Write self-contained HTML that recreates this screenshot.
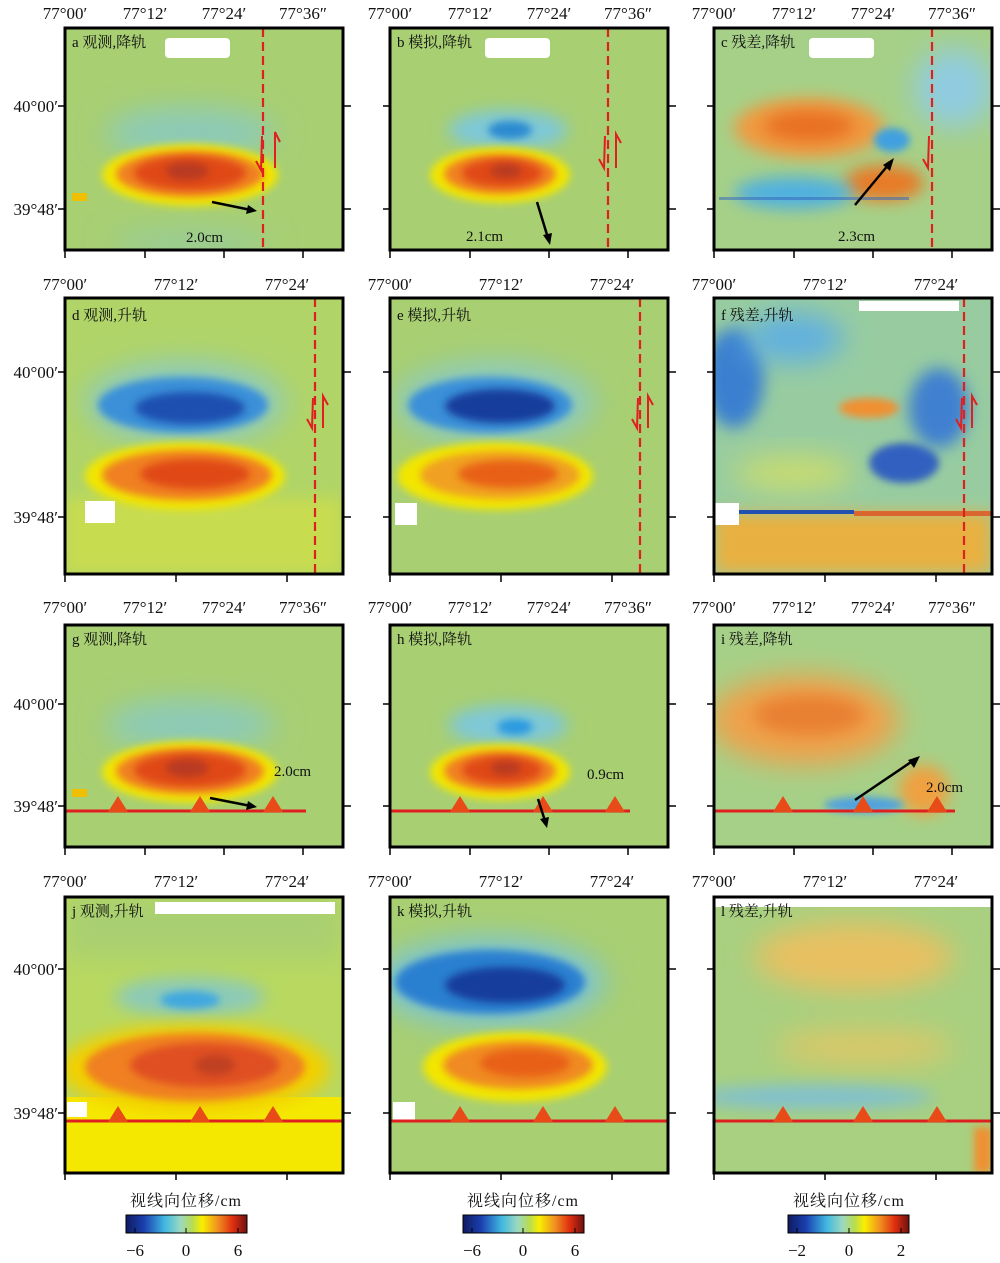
<!DOCTYPE html>
<html><head><meta charset="utf-8"><style>
html,body{margin:0;padding:0;background:#fff}
svg{display:block}
.t{font-family:"Liberation Serif","Noto Serif CJK SC",serif;font-size:17px;fill:#111}
.p{font-family:"Liberation Serif","Noto Serif CJK SC",serif;font-size:15px;fill:#111}
.q{font-family:"Liberation Serif","Noto Serif CJK SC",serif;font-size:16px;fill:#111;letter-spacing:1px}
.c{font-family:"Liberation Serif","Noto Serif CJK SC",serif;font-size:15px;fill:#111}
</style></head><body>
<svg width="1000" height="1263" viewBox="0 0 1000 1263" xmlns="http://www.w3.org/2000/svg">
<defs>
<filter id="b4" x="-50%" y="-50%" width="200%" height="200%"><feGaussianBlur stdDeviation="4"/></filter>
<filter id="b8" x="-50%" y="-50%" width="200%" height="200%"><feGaussianBlur stdDeviation="8"/></filter>
<filter id="b14" x="-50%" y="-50%" width="200%" height="200%"><feGaussianBlur stdDeviation="14"/></filter>
<clipPath id="s"><rect x="0" y="0" width="278" height="222"/></clipPath>
<clipPath id="l"><rect x="0" y="0" width="278" height="276"/></clipPath>
<linearGradient id="cb" x1="0" x2="1" y1="0" y2="0">
<stop offset="0" stop-color="#101a60"/><stop offset="0.15" stop-color="#1a40b0"/><stop offset="0.32" stop-color="#40b8e0"/><stop offset="0.45" stop-color="#9ad8c0"/><stop offset="0.55" stop-color="#b8dc50"/><stop offset="0.63" stop-color="#f8f000"/><stop offset="0.76" stop-color="#f09020"/><stop offset="0.88" stop-color="#e03010"/><stop offset="1" stop-color="#701010"/>
</linearGradient>
<g id="redS">
<ellipse cx="125" cy="147" rx="88" ry="31" fill="#f2e600" filter="url(#b4)"/>
<ellipse cx="125" cy="146" rx="74" ry="23" fill="#f08020" filter="url(#b4)"/>
<ellipse cx="125" cy="145" rx="56" ry="17" fill="#e04a18" filter="url(#b4)"/>
<ellipse cx="122" cy="143" rx="22" ry="9" fill="#b83a20" filter="url(#b4)"/>
</g>
<g id="redB">
<ellipse cx="110" cy="147" rx="70" ry="28" fill="#f2e600" filter="url(#b4)"/>
<ellipse cx="110" cy="146" rx="56" ry="20" fill="#f08020" filter="url(#b4)"/>
<ellipse cx="112" cy="145" rx="40" ry="14" fill="#e04a18" filter="url(#b4)"/>
<ellipse cx="116" cy="143" rx="16" ry="7" fill="#b83a20" filter="url(#b4)"/>
</g>
<g id="fr"><rect x="0" y="0" width="278" height="222" fill="none" stroke="#000" stroke-width="3"/></g>
<g id="frL"><rect x="0" y="0" width="278" height="276" fill="none" stroke="#000" stroke-width="3"/></g>
</defs>

<!-- ROW 1 -->
<text class="t" x="65" y="19" text-anchor="middle">77°00′</text>
<text class="t" x="145" y="19" text-anchor="middle">77°12′</text>
<text class="t" x="224" y="19" text-anchor="middle">77°24′</text>
<text class="t" x="303" y="19" text-anchor="middle">77°36″</text>
<text class="t" x="390" y="19" text-anchor="middle">77°00′</text>
<text class="t" x="470" y="19" text-anchor="middle">77°12′</text>
<text class="t" x="549" y="19" text-anchor="middle">77°24′</text>
<text class="t" x="628" y="19" text-anchor="middle">77°36″</text>
<text class="t" x="714" y="19" text-anchor="middle">77°00′</text>
<text class="t" x="794" y="19" text-anchor="middle">77°12′</text>
<text class="t" x="873" y="19" text-anchor="middle">77°24′</text>
<text class="t" x="952" y="19" text-anchor="middle">77°36″</text>
<text class="t" x="58" y="112" text-anchor="end">40°00′</text>
<text class="t" x="58" y="215" text-anchor="end">39°48′</text>

<g transform="translate(65,28)">
<g clip-path="url(#s)">
<rect width="278" height="222" fill="#a8cf72"/>
<ellipse cx="125" cy="105" rx="85" ry="26" fill="#8ccab8" filter="url(#b14)"/>
<ellipse cx="125" cy="215" rx="80" ry="15" fill="#98cc98" filter="url(#b14)"/>
<use href="#redS"/>
<rect x="7" y="165" width="15" height="8" fill="#f0c000"/>
<rect x="100" y="10" width="65" height="20" fill="#fff" rx="4"/>
<line x1="198" y1="0" x2="198" y2="222" stroke="#e02020" stroke-width="2.2" stroke-dasharray="9,5"/>
<path d="M197 108 L196 142 L191 133 M210 140 L210 104 L215 114" stroke="#e02020" stroke-width="2" fill="none"/>
<line x1="147" y1="174" x2="186" y2="182" stroke="#000" stroke-width="2.5"/><path d="M192 183 L181 186 L183 177Z" fill="#000"/>
<text class="c" x="121" y="214">2.0cm</text>
<text class="p" x="7" y="19">a 观测,降轨</text>
</g><use href="#fr"/>
</g>
<g transform="translate(390,28)">
<g clip-path="url(#s)">
<rect width="278" height="222" fill="#a8cf72"/>
<ellipse cx="118" cy="102" rx="60" ry="20" fill="#7ec8d8" filter="url(#b8)"/>
<ellipse cx="120" cy="102" rx="22" ry="9" fill="#2a8ad0" filter="url(#b4)"/>
<use href="#redB"/>
<rect x="95" y="10" width="65" height="20" fill="#fff" rx="4"/>
<line x1="218" y1="0" x2="218" y2="222" stroke="#e02020" stroke-width="2.2" stroke-dasharray="9,5"/>
<path d="M215 108 L214 140 L209 131 M226 140 L226 106 L231 115" stroke="#e02020" stroke-width="2" fill="none"/>
<line x1="147" y1="174" x2="158" y2="210" stroke="#000" stroke-width="2.5"/><path d="M160 217 L153 207 L162 205Z" fill="#000"/>
<text class="c" x="76" y="213">2.1cm</text>
<text class="p" x="7" y="19">b 模拟,降轨</text>
</g><use href="#fr"/>
</g>
<g transform="translate(714,28)">
<g clip-path="url(#s)">
<rect width="278" height="222" fill="#a6d088"/>
<ellipse cx="95" cy="100" rx="75" ry="30" fill="#f09a40" filter="url(#b8)"/>
<ellipse cx="95" cy="98" rx="45" ry="15" fill="#e87020" filter="url(#b8)"/>
<ellipse cx="170" cy="155" rx="40" ry="18" fill="#e87a28" filter="url(#b8)"/>
<ellipse cx="178" cy="112" rx="18" ry="12" fill="#40a0e0" filter="url(#b4)"/>
<ellipse cx="80" cy="165" rx="60" ry="16" fill="#50b0e0" filter="url(#b8)"/>
<ellipse cx="240" cy="60" rx="40" ry="40" fill="#90cce0" filter="url(#b14)"/>
<rect x="5" y="169" width="190" height="3" fill="#3060c0" opacity="0.5"/>
<rect x="95" y="10" width="65" height="20" fill="#fff" rx="4"/>
<line x1="218" y1="0" x2="218" y2="222" stroke="#e02020" stroke-width="2.2" stroke-dasharray="9,5"/>
<path d="M215 108 L214 140 L209 131" stroke="#e02020" stroke-width="2" fill="none"/>
<line x1="141" y1="177" x2="175" y2="136" stroke="#000" stroke-width="2.5"/><path d="M180 130 L176 143 L169 137Z" fill="#000"/>
<text class="c" x="124" y="213">2.3cm</text>
<text class="p" x="7" y="19">c 残差,降轨</text>
</g><use href="#fr"/>
</g>

<!-- ROW 2 -->
<text class="t" x="65" y="290" text-anchor="middle">77°00′</text>
<text class="t" x="176" y="290" text-anchor="middle">77°12′</text>
<text class="t" x="287" y="290" text-anchor="middle">77°24′</text>
<text class="t" x="390" y="290" text-anchor="middle">77°00′</text>
<text class="t" x="501" y="290" text-anchor="middle">77°12′</text>
<text class="t" x="612" y="290" text-anchor="middle">77°24′</text>
<text class="t" x="714" y="290" text-anchor="middle">77°00′</text>
<text class="t" x="825" y="290" text-anchor="middle">77°12′</text>
<text class="t" x="936" y="290" text-anchor="middle">77°24′</text>
<text class="t" x="58" y="378" text-anchor="end">40°00′</text>
<text class="t" x="58" y="523" text-anchor="end">39°48′</text>

<g transform="translate(65,298)">
<g clip-path="url(#l)">
<rect width="278" height="276" fill="#b0d468"/>
<rect y="200" width="278" height="76" fill="#c8dc50" filter="url(#b8)"/>
<ellipse cx="120" cy="105" rx="100" ry="42" fill="#8ccac0" filter="url(#b14)"/>
<ellipse cx="118" cy="107" rx="85" ry="28" fill="#3a90d8" filter="url(#b4)"/>
<ellipse cx="125" cy="110" rx="55" ry="16" fill="#1a50b0" filter="url(#b4)"/>
<ellipse cx="120" cy="178" rx="100" ry="34" fill="#f2e600" filter="url(#b4)"/>
<ellipse cx="122" cy="177" rx="85" ry="25" fill="#f08020" filter="url(#b4)"/>
<ellipse cx="130" cy="176" rx="55" ry="15" fill="#e04a18" filter="url(#b4)"/>
<rect x="20" y="203" width="30" height="22" fill="#fff"/>
<line x1="250" y1="0" x2="250" y2="276" stroke="#e02020" stroke-width="2.2" stroke-dasharray="9,5"/>
<path d="M248 100 L247 130 L242 121 M258 130 L258 98 L263 107" stroke="#e02020" stroke-width="2" fill="none"/>
<text class="p" x="7" y="22">d 观测,升轨</text>
</g><use href="#frL"/>
</g>
<g transform="translate(390,298)">
<g clip-path="url(#l)">
<rect width="278" height="276" fill="#a8cf72"/>
<ellipse cx="105" cy="105" rx="100" ry="42" fill="#8ccac0" filter="url(#b14)"/>
<ellipse cx="100" cy="107" rx="82" ry="28" fill="#3a90d8" filter="url(#b4)"/>
<ellipse cx="110" cy="108" rx="55" ry="17" fill="#143c9c" filter="url(#b4)"/>
<ellipse cx="105" cy="178" rx="98" ry="34" fill="#f2e600" filter="url(#b4)"/>
<ellipse cx="110" cy="177" rx="80" ry="24" fill="#f0a020" filter="url(#b4)"/>
<ellipse cx="118" cy="176" rx="50" ry="14" fill="#e86018" filter="url(#b4)"/>
<rect x="5" y="205" width="22" height="22" fill="#fff"/>
<line x1="250" y1="0" x2="250" y2="276" stroke="#e02020" stroke-width="2.2" stroke-dasharray="9,5"/>
<path d="M248 100 L247 130 L242 121 M258 130 L258 98 L263 107" stroke="#e02020" stroke-width="2" fill="none"/>
<text class="p" x="7" y="22">e 模拟,升轨</text>
</g><use href="#frL"/>
</g>
<g transform="translate(714,298)">
<g clip-path="url(#l)">
<rect width="278" height="276" fill="#98cca0"/>
<rect y="215" width="278" height="61" fill="#e8b040" filter="url(#b8)"/>
<ellipse cx="20" cy="80" rx="30" ry="50" fill="#3a80d0" filter="url(#b8)"/>
<ellipse cx="80" cy="40" rx="50" ry="25" fill="#60b0e0" filter="url(#b14)"/>
<ellipse cx="155" cy="110" rx="30" ry="10" fill="#f09030" filter="url(#b4)"/>
<ellipse cx="190" cy="165" rx="35" ry="20" fill="#3060c0" filter="url(#b4)"/>
<ellipse cx="225" cy="110" rx="30" ry="40" fill="#4080d0" filter="url(#b8)"/>
<ellipse cx="80" cy="175" rx="60" ry="18" fill="#c8dc70" filter="url(#b14)"/>
<rect x="20" y="212" width="120" height="4" fill="#2050b0"/>
<rect x="140" y="213" width="140" height="5" fill="#e05020" opacity="0.8"/>
<rect x="0" y="205" width="25" height="22" fill="#fff"/>
<rect x="145" y="3" width="100" height="10" fill="#fff"/>
<line x1="250" y1="0" x2="250" y2="276" stroke="#e02020" stroke-width="2.2" stroke-dasharray="9,5"/>
<path d="M248 100 L247 130 L242 121 M258 130 L258 98 L263 107" stroke="#e02020" stroke-width="2" fill="none"/>
<text class="p" x="7" y="22">f 残差,升轨</text>
</g><use href="#frL"/>
</g>

<!-- ROW 3 -->
<text class="t" x="65" y="613" text-anchor="middle">77°00′</text>
<text class="t" x="145" y="613" text-anchor="middle">77°12′</text>
<text class="t" x="224" y="613" text-anchor="middle">77°24′</text>
<text class="t" x="303" y="613" text-anchor="middle">77°36″</text>
<text class="t" x="390" y="613" text-anchor="middle">77°00′</text>
<text class="t" x="470" y="613" text-anchor="middle">77°12′</text>
<text class="t" x="549" y="613" text-anchor="middle">77°24′</text>
<text class="t" x="628" y="613" text-anchor="middle">77°36″</text>
<text class="t" x="714" y="613" text-anchor="middle">77°00′</text>
<text class="t" x="794" y="613" text-anchor="middle">77°12′</text>
<text class="t" x="873" y="613" text-anchor="middle">77°24′</text>
<text class="t" x="952" y="613" text-anchor="middle">77°36″</text>
<text class="t" x="58" y="710" text-anchor="end">40°00′</text>
<text class="t" x="58" y="812" text-anchor="end">39°48′</text>

<g transform="translate(65,625)">
<g clip-path="url(#s)">
<rect width="278" height="222" fill="#a8cf72"/>
<ellipse cx="125" cy="100" rx="85" ry="26" fill="#8ccab8" filter="url(#b14)"/>
<use href="#redS"/>
<rect x="7" y="164" width="15" height="8" fill="#f0c000"/>
<polyline points="0,186 241,186" stroke="#e02020" stroke-width="3"/>
<path d="M43 187 L53 171 L63 187Z M125 187 L135 171 L145 187Z M198 187 L208 171 L218 187Z" fill="#e84a18"/>
<line x1="145" y1="173" x2="186" y2="181" stroke="#000" stroke-width="2.5"/><path d="M192 182 L181 185 L183 176Z" fill="#000"/>
<text class="c" x="209" y="151">2.0cm</text>
<text class="p" x="7" y="19">g 观测,降轨</text>
</g><use href="#fr"/>
</g>
<g transform="translate(390,625)">
<g clip-path="url(#s)">
<rect width="278" height="222" fill="#a8cf72"/>
<ellipse cx="118" cy="100" rx="60" ry="20" fill="#7ec8d8" filter="url(#b8)"/>
<ellipse cx="125" cy="102" rx="18" ry="8" fill="#2a9ae0" filter="url(#b4)"/>
<use href="#redB"/>
<polyline points="0,186 240,186" stroke="#e02020" stroke-width="3"/>
<path d="M60 187 L70 171 L80 187Z M143 187 L153 171 L163 187Z M215 187 L225 171 L235 187Z" fill="#e84a18"/>
<line x1="148" y1="174" x2="155" y2="196" stroke="#000" stroke-width="2.5"/><path d="M157 203 L150 194 L159 192Z" fill="#000"/>
<text class="c" x="197" y="154">0.9cm</text>
<text class="p" x="7" y="19">h 模拟,降轨</text>
</g><use href="#fr"/>
</g>
<g transform="translate(714,625)">
<g clip-path="url(#s)">
<rect width="278" height="222" fill="#a6d088"/>
<ellipse cx="90" cy="95" rx="95" ry="45" fill="#f0a048" filter="url(#b14)"/>
<ellipse cx="95" cy="90" rx="55" ry="20" fill="#e88030" filter="url(#b8)"/>
<ellipse cx="210" cy="165" rx="25" ry="25" fill="#f0a040" filter="url(#b8)"/>
<ellipse cx="150" cy="180" rx="40" ry="8" fill="#50a0e0" filter="url(#b4)"/>
<polyline points="0,186 241,186" stroke="#e02020" stroke-width="3"/>
<path d="M59 187 L69 171 L79 187Z M139 187 L149 171 L159 187Z M213 187 L223 171 L233 187Z" fill="#e84a18"/>
<line x1="141" y1="175" x2="200" y2="135" stroke="#000" stroke-width="2.5"/><path d="M206 131 L200 143 L194 135Z" fill="#000"/>
<text class="c" x="212" y="167">2.0cm</text>
<text class="p" x="7" y="19">i 残差,降轨</text>
</g><use href="#fr"/>
</g>

<!-- ROW 4 -->
<text class="t" x="65" y="887" text-anchor="middle">77°00′</text>
<text class="t" x="176" y="887" text-anchor="middle">77°12′</text>
<text class="t" x="287" y="887" text-anchor="middle">77°24′</text>
<text class="t" x="390" y="887" text-anchor="middle">77°00′</text>
<text class="t" x="501" y="887" text-anchor="middle">77°12′</text>
<text class="t" x="612" y="887" text-anchor="middle">77°24′</text>
<text class="t" x="714" y="887" text-anchor="middle">77°00′</text>
<text class="t" x="825" y="887" text-anchor="middle">77°12′</text>
<text class="t" x="936" y="887" text-anchor="middle">77°24′</text>
<text class="t" x="58" y="975" text-anchor="end">40°00′</text>
<text class="t" x="58" y="1119" text-anchor="end">39°48′</text>

<g transform="translate(65,897)">
<g clip-path="url(#l)">
<rect width="278" height="276" fill="#b8d860"/>
<rect y="0" width="278" height="60" fill="#a8cf72" filter="url(#b14)"/>
<rect y="200" width="278" height="76" fill="#f5e800"/>
<ellipse cx="125" cy="100" rx="75" ry="20" fill="#8ccab8" filter="url(#b8)"/>
<ellipse cx="125" cy="103" rx="30" ry="9" fill="#40a8e0" filter="url(#b4)"/>
<ellipse cx="130" cy="172" rx="135" ry="45" fill="#f2d000" filter="url(#b8)"/>
<ellipse cx="130" cy="170" rx="110" ry="34" fill="#f08020" filter="url(#b4)"/>
<ellipse cx="140" cy="168" rx="75" ry="22" fill="#e05020" filter="url(#b4)"/>
<ellipse cx="150" cy="168" rx="20" ry="10" fill="#c04020" filter="url(#b4)"/>
<rect x="2" y="205" width="20" height="15" fill="#fff"/>
<rect x="90" y="5" width="180" height="12" fill="#fff"/>
<polyline points="0,224 278,224" stroke="#e02020" stroke-width="3"/>
<path d="M43 225 L53 209 L63 225Z M125 225 L135 209 L145 225Z M198 225 L208 209 L218 225Z" fill="#e84a18"/>
<text class="p" x="7" y="19">j 观测,升轨</text>
</g><use href="#frL"/>
</g>
<g transform="translate(390,897)">
<g clip-path="url(#l)">
<rect width="278" height="276" fill="#a8cf72"/>
<ellipse cx="100" cy="85" rx="115" ry="45" fill="#7cc4d4" filter="url(#b14)"/>
<ellipse cx="100" cy="85" rx="95" ry="32" fill="#2a80d0" filter="url(#b4)"/>
<ellipse cx="115" cy="88" rx="60" ry="18" fill="#143c9c" filter="url(#b4)"/>
<ellipse cx="125" cy="170" rx="92" ry="35" fill="#f2e600" filter="url(#b4)"/>
<ellipse cx="128" cy="168" rx="75" ry="24" fill="#f08a20" filter="url(#b4)"/>
<ellipse cx="135" cy="166" rx="45" ry="14" fill="#e86018" filter="url(#b4)"/>
<rect x="3" y="205" width="22" height="18" fill="#fff"/>
<polyline points="0,224 278,224" stroke="#e02020" stroke-width="3"/>
<path d="M60 225 L70 209 L80 225Z M143 225 L153 209 L163 225Z M215 225 L225 209 L235 225Z" fill="#e84a18"/>
<text class="p" x="7" y="19">k 模拟,升轨</text>
</g><use href="#frL"/>
</g>
<g transform="translate(714,897)">
<g clip-path="url(#l)">
<rect width="278" height="276" fill="#a8d080"/>
<ellipse cx="140" cy="60" rx="100" ry="35" fill="#e8c060" filter="url(#b14)"/>
<ellipse cx="150" cy="150" rx="90" ry="20" fill="#d8c868" filter="url(#b14)"/>
<ellipse cx="100" cy="200" rx="120" ry="12" fill="#80c0d0" filter="url(#b8)"/>
<rect x="260" y="230" width="18" height="46" fill="#f09030" filter="url(#b4)"/>
<rect x="0" y="0" width="278" height="10" fill="#fff"/>
<polyline points="0,224 278,224" stroke="#e02020" stroke-width="3"/>
<path d="M59 225 L69 209 L79 225Z M139 225 L149 209 L159 225Z M213 225 L223 209 L233 225Z" fill="#e84a18"/>
<text class="p" x="7" y="19">l 残差,升轨</text>
</g><use href="#frL"/>
</g>

<!-- ticks -->
<g stroke="#000" stroke-width="1.5">
<path d="M65 250v8M145 250v8M224 250v8M303 250v8M390 250v8M470 250v8M549 250v8M628 250v8M714 250v8M794 250v8M873 250v8M952 250v8"/>
<path d="M65 574v8M176 574v8M287 574v8M390 574v8M501 574v8M612 574v8M714 574v8M825 574v8M936 574v8"/>
<path d="M65 847v8M145 847v8M224 847v8M303 847v8M390 847v8M470 847v8M549 847v8M628 847v8M714 847v8M794 847v8M873 847v8M952 847v8"/>
<path d="M65 1172v8M176 1172v8M287 1172v8M390 1172v8M501 1172v8M612 1172v8M714 1172v8M825 1172v8M936 1172v8"/>
<path d="M58 106h7M58 209h7M343 106h8M343 209h8M383 106h7M383 209h7M668 106h8M668 209h8M707 106h7M707 209h7M992 106h8M992 209h8"/>
<path d="M58 372h7M58 517h7M343 372h8M343 517h8M383 372h7M383 517h7M668 372h8M668 517h8M707 372h7M707 517h7M992 372h8M992 517h8"/>
<path d="M58 704h7M58 806h7M343 704h8M343 806h8M383 704h7M383 806h7M668 704h8M668 806h8M707 704h7M707 806h7M992 704h8M992 806h8"/>
<path d="M58 969h7M58 1113h7M343 969h8M343 1113h8M383 969h7M383 1113h7M668 969h8M668 1113h8M707 969h7M707 1113h7M992 969h8M992 1113h8"/>
</g>

<!-- colorbars -->
<text class="q" x="186" y="1206" text-anchor="middle">视线向位移/cm</text>
<rect x="126" y="1215" width="121" height="18" fill="url(#cb)" stroke="#000" stroke-width="1"/>
<path d="M135 1233v-5M186 1233v-5M238 1233v-5" stroke="#000"/>
<text class="t" x="135" y="1256" text-anchor="middle">−6</text>
<text class="t" x="186" y="1256" text-anchor="middle">0</text>
<text class="t" x="238" y="1256" text-anchor="middle">6</text>

<text class="q" x="523" y="1206" text-anchor="middle">视线向位移/cm</text>
<rect x="463" y="1215" width="121" height="18" fill="url(#cb)" stroke="#000" stroke-width="1"/>
<path d="M472 1233v-5M523 1233v-5M575 1233v-5" stroke="#000"/>
<text class="t" x="472" y="1256" text-anchor="middle">−6</text>
<text class="t" x="523" y="1256" text-anchor="middle">0</text>
<text class="t" x="575" y="1256" text-anchor="middle">6</text>

<text class="q" x="849" y="1206" text-anchor="middle">视线向位移/cm</text>
<rect x="788" y="1215" width="121" height="18" fill="url(#cb)" stroke="#000" stroke-width="1"/>
<path d="M797 1233v-5M849 1233v-5M901 1233v-5" stroke="#000"/>
<text class="t" x="797" y="1256" text-anchor="middle">−2</text>
<text class="t" x="849" y="1256" text-anchor="middle">0</text>
<text class="t" x="901" y="1256" text-anchor="middle">2</text>
</svg>
</body></html>
